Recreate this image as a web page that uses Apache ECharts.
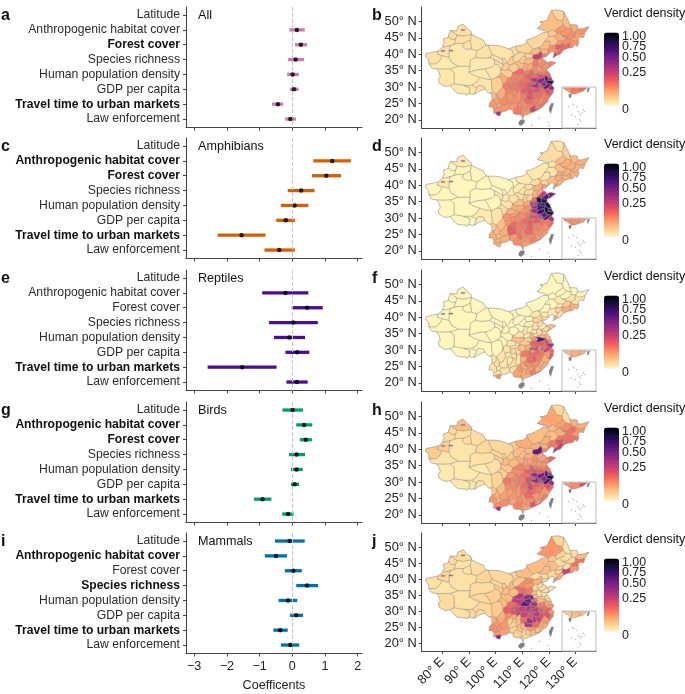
<!DOCTYPE html>
<html>
<head>
<meta charset="utf-8">
<title>Verdict density</title>
<style>
  html, body { margin: 0; padding: 0; background: #fff; }
  #chart { width: 685px; height: 694px; }
</style>
<script src="https://cdn.jsdelivr.net/npm/echarts@6/dist/echarts.min.js"></script>
</head>
<body>
<div id="chart"></div>
<script>
// rows of the forest plots
const rowLabels = ["Latitude", "Anthropogenic habitat cover", "Forest cover", "Species richness",
  "Human population density", "GDP per capita", "Travel time to urban markets", "Law enforcement"];
const coefTicks = [-3, -2, -1, 0, 1, 2];
const lonTicks = [80, 90, 100, 110, 120, 130];
const latTicks = [20, 25, 30, 35, 40, 45, 50];
const densityTicks = [0, 0.25, 0.5, 0.75, 1];

// coefficients, low / mean / high, null where the row has no estimate
const allLow = [null, -0.09, 0.08, -0.13, -0.16, -0.07, -0.62, -0.22];
const allMean = [null, 0.14, 0.26, 0.10, 0.01, 0.05, -0.44, -0.06];
const allHigh = [null, 0.38, 0.45, 0.36, 0.20, 0.19, -0.28, 0.11];
const amphibianLow = [null, 0.64, 0.60, -0.14, -0.35, -0.49, -2.28, -0.85];
const amphibianMean = [null, 1.22, 1.04, 0.27, 0.07, -0.20, -1.55, -0.40];
const amphibianHigh = [null, 1.79, 1.49, 0.68, 0.49, 0.08, -0.82, 0.08];
const reptileLow = [null, -0.92, -0.02, -0.71, -0.56, -0.21, -2.59, -0.18];
const reptileMean = [null, -0.21, 0.45, 0.03, -0.09, 0.15, -1.53, 0.14];
const reptileHigh = [null, 0.49, 0.93, 0.78, 0.39, 0.52, -0.48, 0.47];
const birdLow = [-0.30, 0.12, 0.23, -0.10, -0.04, -0.04, -1.17, -0.31];
const birdMean = [0.01, 0.36, 0.41, 0.13, 0.13, 0.07, -0.91, -0.13];
const birdHigh = [0.33, 0.61, 0.60, 0.39, 0.32, 0.21, -0.64, 0.04];
const mammalLow = [-0.53, -0.84, -0.23, 0.12, -0.42, -0.07, -0.58, -0.35];
const mammalMean = [-0.08, -0.50, 0.03, 0.45, -0.13, 0.12, -0.37, -0.06];
const mammalHigh = [0.38, -0.16, 0.29, 0.79, 0.15, 0.33, -0.14, 0.21];

// map regions as "lon lat,lon lat,...", one line per region, same order as the density lists
const regionRings = [
  // xinjiang
  "83 47.2,85.5 47.1,85.8 48.4,87.8 49.2,89 48,90.8 46.9,91 46,88 45.5,85.5 45.8",
  "82.5 45.2,82.3 45.5,83 47.2,85.5 45.8,85 44.5,83.5 44.5",
  "80.2 42.1,80.3 43,80.8 43.2,80.4 44.6,82.5 45.2,83.5 44.5,85 44.5,84.5 43,83 42.6",
  "85 44.5,85.5 45.8,88 45.5,91 46,90.5 44.3,88 43.3,86 43.3,84.5 43",
  "91 46,93.5 45,95.4 44.3,96.4 42.8,93 41,91 41.5,90.5 44.3",
  "88 43.3,90.5 44.3,91 41.5,89 41.5,87.5 42.3",
  "83 42.6,84.5 43,86 43.3,88 43.3,87.5 42.3,89 41.5,91 41.5,93 41,92.5 39,90.5 38.2,90.5 36.3,86 36.3,83.5 37.5,82.5 39,82.5 41",
  "78.5 41,80.2 42.1,83 42.6,82.5 41,82.5 39,80 39.5,78 40",
  "73.6 39.4,74 40.2,76 40.5,78.5 41,78 40,80 39.5,79 38,77.5 37,75 37,74.9 38.4",
  "75 37,77.5 37,79 38,80 39.5,82.5 39,83.5 37.5,86 36.3,83 35.5,80.5 35.4,78 35.5,76 35.8",
  // tibet
  "78.9 34.3,78 35.5,80.5 35.4,83 35.5,84.5 34.5,84.5 31,83 30.4,82 30.3,81 30.2,78.8 31.2,78.5 32.5,79.3 33",
  "83 35.5,86 36.3,90.5 36.3,90 34.5,92 33.6,94 33,93 31.5,91 30.5,88 30.5,84.5 31,84.5 34.5",
  "84.5 31,88 30.5,90.5 29.8,90 28,89 27.5,88.9 27.9,86 28,85 28.5,83 30.4",
  "88 30.5,91 30.5,93 29.8,92 27.8,90 28,90.5 29.8",
  "93 29.8,93.5 30.5,95.5 30.3,96 29.4,94 28.8,92 27.8",
  "91 30.5,93 31.5,94 33,96.3 32.5,98.5 32.2,98.5 31,98.8 29,98.6 28.2,98 28.2,97.3 28.2,96 29.4,95.5 30.3,93.5 30.5,93 29.8",
  // qinghai
  "90.5 36.3,90.5 38.2,92.5 39,95 38.8,98 39,99.5 38.3,99.7 37,98.5 36,96 35.5,93.5 35.3,90 34.5",
  "90 34.5,93.5 35.3,96 35.5,97 34.3,98.5 32.2,96.3 32.5,94 33,92 33.6",
  "96 35.5,98.5 36,99.7 37,101 36.8,102 35.5,102 34,100.5 33,98.5 32.2,97 34.3",
  "99.5 38.3,100.5 38,102.9 36.8,102.8 36,102 35.5,101 36.8,99.7 37",
  // gansu
  "92.5 39,93 41,96.4 42.8,97.2 42.7,98.7 40,98 39,95 38.8",
  "98 39,98.7 40,100 39.5,102.5 38.6,102.9 36.8,100.5 38,99.5 38.3",
  "102.5 38.6,103.5 38.8,104.2 37.4,102.9 36.8",
  "102.9 36.8,104.2 37.4,105.2 36.7,105 35.3,103.5 35,102 35.5,102.8 36",
  "102 35.5,103.5 35,105 35.3,106.5 34.4,106 33,104.5 32.7,102.5 34,102 34",
  "105.2 36.7,107 37.2,108.7 36.4,108.2 35,106.5 34.4,105 35.3",
  // ningxia
  "104.2 37.4,105 38,105.9 39.3,106.8 39.3,106.5 38.3,107.3 37.5,107 37.2,105.2 36.7",
  // inner mongolia, daxing'anling
  "97.2 42.7,100 42.7,101.8 42.5,105 41.6,106.5 41,106.8 39.3,105.9 39.3,105 38,104.2 37.4,103.5 38.8,102.5 38.6,100 39.5,98.7 40",
  "105 41.6,107.5 42.4,108 41,109.5 40.6,108 40.2,106.8 39.3,106.5 41",
  "106.8 39.3,108 40.2,109.5 40.6,111.3 40.3,111 39.5,110 39,108.5 37.8,107.3 37.5,106.5 38.3",
  "107.5 42.4,110.4 42.8,111.9 43.7,112.8 42.8,114 41.5,112.5 40.2,111.3 40.3,109.5 40.6,108 41",
  "111.9 43.7,111.5 44.3,113.6 44.8,116 45.7,117.8 46.6,119.8 46.7,120 45.5,118.5 44,117.5 42.5,116 42,114 41.5,112.8 42.8",
  "117.5 42.5,118.5 44,120.5 44,120.5 42.5,119.5 41.5,117.5 41.5,116 42",
  "120.5 44,118.5 44,120 45.5,122 45.5,123.5 44,122.5 42.8,120.5 42.5",
  "119.8 46.7,119.9 46.8,121.5 47.5,122.5 47,123.2 46.2,122 45.5,120 45.5",
  "115.6 47.9,116 48,117.8 49.5,116.7 49.8,119.3 50.3,120.1 51.7,121 53.3,122 52,123 50.5,125 50.2,125.5 49,124.5 48.4,123.3 48,122.5 47,121.5 47.5,119.9 46.8",
  "121 53.3,123.5 53.5,125.6 53,125.5 50.9,125 50.2,123 50.5,122 52",
  // heilongjiang
  "125 50.2,125.5 50.9,125.6 53,127.5 50,127.9 49,128.5 47.7,126.5 48,125.5 49",
  "127.9 49,130.6 48.9,130.9 47.7,130 46.7,128.5 47,128.5 47.7",
  "123.3 48,124.5 48.4,125.5 49,126.5 48,125.5 47,124 46.5,123.2 46.2,122.5 47",
  "126.5 48,128.5 47.7,128.5 47,127 45.6,125 45.5,124 46.5,125.5 47",
  "125 45.5,127 45.6,128.5 47,130 46.7,130 45.3,128.3 44.7,126.5 45",
  "130.9 47.7,132.5 47.7,134.8 48.3,135.08 48.4,133.5 46.5,131.5 46,130 46.7",
  "130 46.7,131.5 46,133.5 46.5,133.1 45.1,131.9 45.3,131 44.9,131 43.9,129 44,128.3 44.7,130 45.3",
  // jilin
  "122 45.5,123.2 46.2,124 46.5,125 45.5,126.5 45,125.5 44,123.5 44",
  "125.5 44,126.5 45,128.3 44.7,128 43.5,126.5 42.9,125 43.2",
  "123.5 44,125.5 44,125 43.2,124.3 42.9,122.5 42.8",
  "128.3 44.7,129 44,131 43.9,131.3 43.4,130.6 42.4,129.9 43,128.9 42,128 42,128 43.5",
  "125 43.2,126.5 42.9,128 43.5,128 42,126.9 41.8,125.5 41.3,125 42.2",
  // liaoning
  "122.5 42.8,124.3 42.9,125 43.2,125 42.2,123.5 41.3,122.5 41.5",
  "123.5 41.3,125 42.2,125.5 41.3,124.4 40.1,123 39.7,123 40.5",
  "123 40.5,123 39.7,121.6 38.9,122.2 40.4",
  "120.5 42.5,122.5 42.8,122.5 41.5,123.5 41.3,123 40.5,122.2 40.4,121.2 40.9,119.8 40,119.5 41.5",
  // hebei, beijing, tianjin
  "114 41.5,116 42,117 41,115.8 40,114 39.8,114 40.2,112.5 40.2",
  "116 42,117.5 41.5,119.5 41.5,119.8 40,117.5 40.1,117 41",
  "114 39.8,115.8 40,117 41,117.5 40.1,117.5 39,116 38.3,114.5 38.4,113.8 38.8",
  "117.5 40.1,119.8 40,119 39.2,117.8 39.2,117.8 38.2,117.5 38.5,117.5 39",
  "116 38.3,117.5 39,117.5 38.5,117.8 38.2,116.5 37,115.5 37.3",
  "114.5 38.4,116 38.3,115.5 37.3,116.5 37,115.3 36.2,114 36.3,113.8 37.3",
  // shanxi
  "111.3 40.3,112.5 40.2,114 40.2,114 39.8,113.8 38.8,111.5 38.6,111 39.5",
  "111.5 38.6,113.8 38.8,114.5 38.4,113.8 37.3,112.3 36.9,110.8 37.2,110.9 38",
  "112.3 36.9,113.8 37.3,114 36.3,113.5 35.3,112.8 35.2,112 35.1,111.5 36",
  "110.8 37.2,112.3 36.9,111.5 36,112 35.1,110.6 34.6,110.3 35.5",
  // shaanxi
  "108.5 37.8,110 39,111 39.5,111.5 38.6,110.9 38,110.8 37.2,109.8 37.2",
  "107.3 37.5,108.5 37.8,109.8 37.2,110.8 37.2,110.3 35.5,108.7 35.6,108.7 36.4,107 37.2",
  "106.5 34.4,108.2 35,108.7 35.6,110.3 35.5,110.6 34.6,110.5 33.8,108 33.7,106.7 34",
  "106 33,106.5 34.4,106.7 34,108 33.7,110.5 33.8,110.9 33.2,110 32.6,109 31.8,107.5 32.5,106 32.8",
  // henan
  "114 36.3,115.3 36.2,115.5 35.1,114 34.9,113 35,112.8 35.2,113.5 35.3",
  "115.5 35.1,116.1 34.6,115 33.9,114 34.3,114 34.9",
  "110.6 34.6,112 35.1,112.8 35.2,113 35,113 34,111.5 33.6,110.5 33.8",
  "113 35,114 34.9,114 34.3,114.8 33.6,113.3 33.5,113 34",
  "110.9 33.2,110.5 33.8,111.5 33.6,113 34,113.3 33.5,113.8 32.7,112.8 32.4,111.6 32.6",
  "114.8 33.6,114 34.3,115 33.9,116 33.4,115.5 32.8,114.5 32.8,113.8 32.7,113.3 33.5",
  "112.8 32.4,113.8 32.7,114.5 32.8,115.5 32.8,115.9 32,115.2 31.3,114 31.6",
  // shandong
  "116.5 37,117.8 38.2,118.9 38,119 37.3,118.5 36.7,117 36.2,116 36.4,115.3 36.2",
  "115.3 36.2,116 36.4,117 36.2,117.5 35.2,117 34.5,116.1 34.6,115.5 35.1",
  "118.5 36.7,119 37.3,120 37,120 36,119.3 35.7,118 35.8,117 36.2",
  "119 37.3,120.8 37.8,122.6 37.4,120.4 36.1,119.3 35.7,120 36,120 37",
  "117 36.2,118 35.8,119.3 35.7,119.3 35,118.5 34.5,117 34.5,117.5 35.2",
  // jiangsu
  "116.1 34.6,117 34.5,118.5 34.5,118.8 33.6,117.5 33.7,116.4 34,115 33.9",
  "118.5 34.5,119.3 35,120.3 34.2,120.9 33,119.8 32.9,118.8 33.6",
  "118.8 33.6,119.8 32.9,120 32,118.8 31.3,118.4 32.2,118.3 33",
  "119.8 32.9,120.9 33,121 32.5,121.9 31.7,120.5 32,120 32",
  "118.8 31.3,120 32,120.5 32,121.9 31.7,121.3 30.9,121 30.6,120.5 31,119.6 31",
  // anhui
  "115.5 32.8,116 33.4,115 33.9,116.4 34,117.5 33.7,118.8 33.6,118.3 33,117.5 32.7,116 32.4,115.9 32",
  "115.9 32,116 32.4,117.5 32.7,118.3 33,118.4 32.2,118 31.5,117 31.2,116 31.2,115.2 31.3",
  "118 31.5,118.4 32.2,118.8 31.3,119.6 31,118.8 30.3,118 30,117.2 30.5,117 31.2",
  "116 31.2,117 31.2,117.2 30.5,118 30,118 29.4,117.2 29.7,116.2 29.8,116 30.3",
  // zhejiang, shanghai
  "119.6 31,120.5 31,121 30.6,120.2 30.2,119.8 29.7,118.9 29.3,118 29.4,118 30,118.8 30.3",
  "121 30.6,122 29.8,121.6 28.9,120.5 29,119.8 29.7,120.2 30.2",
  "118 29.4,118.9 29.3,119.8 29.7,120.5 29,120.5 28,119.5 27.5,118.8 28.3,118.2 28.6",
  "120.5 29,121.6 28.9,121.6 28.3,120.5 27.1,119.5 27.5,120.5 28",
  // fujian
  "118.8 28.3,119.5 27.5,120.5 27.1,119.6 26.2,118 26.3,117 27,117.5 27.5,118.2 28.6",
  "118 26.3,119.6 26.2,119.6 25.5,118.1 24.4,117.4 25.2",
  "117 27,118 26.3,117.4 25.2,116.8 24.6,116 24.9,116.5 26",
  "117.4 25.2,118.1 24.4,117 23.6,116.8 24.6",
  // jiangxi
  "113.9 29,115 29.7,116.2 29.8,117 29.2,116.5 28.4,115 28.3,114 28.5",
  "116.2 29.8,117.2 29.7,118 29.4,118.2 28.6,117.5 27.5,116.5 28.4,117 29.2",
  "115 28.3,116.5 28.4,117.5 27.5,117 27,116.5 26,115.5 26.8",
  "114 28.5,115 28.3,115.5 26.8,115 26.4,114 26.3,114 27.5",
  "114 26.3,115 26.4,115.5 26.8,116.5 26,116 24.9,115 24.7,114.3 25.2,113.5 26",
  // hubei
  "110 32.6,110.9 33.2,111.6 32.6,112.8 32.4,113 31.8,112 31.5,111 31.4,110 31.5,109 31.8",
  "109.2 31.5,109 31.8,110 31.5,111 31.4,111.5 30.5,111 29.8,109.8 29.5,108.5 29.9,108.5 30.8",
  "111 31.4,112 31.5,113 31.8,113.5 31,113.5 30.2,113 29.7,111.5 29.7,111 29.8,111.5 30.5",
  "112.8 32.4,114 31.6,115.2 31.3,114.8 30.7,114 30.7,113.5 31,113 31.8",
  "113.5 31,114 30.7,114.8 30.7,115.2 31.3,116 31.2,116 30.3,116.2 29.8,115 29.7,114 30,113.5 30.2",
  "113 29.7,113.5 30.2,114 30,115 29.7,113.9 29",
  // hunan
  "109.8 29.5,111 29.8,111.5 29.7,112.5 29.3,112 28.2,110.6 27.9,109.4 28.2,109.2 29",
  "111.5 29.7,113 29.7,113.9 29,114 28.5,114 27.5,113 27.4,112 28.2,112.5 29.3",
  "109.4 28.2,110.6 27.9,112 28.2,111.7 26.8,110.6 26.3,109.5 26.1,109.3 27",
  "112 28.2,113 27.4,114 27.5,114 26.3,113.5 26,112 26.2,111.7 26.8",
  "110.6 26.3,111.7 26.8,112 26.2,113.5 26,114.3 25.2,113.3 24.9,112 25,111 25",
  // guangdong
  "112 25,113.3 24.9,114.3 25.2,114.8 24.5,113.5 23.7,112.8 23.6,112 24.2",
  "114.3 25.2,115 24.7,116 24.9,116.8 24.6,117 23.6,116 23.2,114.8 23.2,114.8 24.5",
  "113.5 23.7,114.8 24.5,114.8 23.2,116 23.2,117 23.6,115 22.7,113.6 22.2,113 22.6,112.8 23.6",
  "111.4 23.9,112 24.2,112.8 23.6,113 22.6,112 22.5,111.4 23",
  "111.4 23,112 22.5,113 22.6,113.6 22.2,111.8 21.6,110.4 21.2,110.3 20.3,109.7 21.5,110.4 22.2",
  // guangxi
  "109.5 26.1,110.6 26.3,111 25,112 25,112 24.2,111.4 23.9,110 24.5,109.5 25",
  "108.3 25.3,109.5 26.1,109.5 25,110 24.5,110.2 23.5,109 23.5,108 24.3",
  "110 24.5,111.4 23.9,111.4 23,110.4 22.2,109.7 21.5,109.5 22.5,110.2 23.5",
  "107 23.4,108 24.3,109 23.5,110.2 23.5,109.5 22.5,109.7 21.5,108.5 21.8,108 21.6,106.7 22,106.6 22.9",
  "105.3 23.3,105 24.5,106.5 25,108.3 25.3,108 24.3,107 23.4,106.6 22.9",
  // guizhou
  "104.3 26.6,104.5 27.4,105.3 28,106.3 27.7,106.5 26.8,105.7 25.8,104.6 25.3",
  "105.3 28,106.2 28.8,107.5 29.1,108 28.3,107.8 27.2,106.3 27.7",
  "108 28.3,109.2 29,109.4 28.2,109.3 27,109.5 26.1,108.3 25.3,107.5 26,107.8 27.2",
  "106.3 27.7,107.8 27.2,107.5 26,108.3 25.3,106.5 25,105 24.5,104.6 25.3,105.7 25.8,106.5 26.8",
  // chongqing
  "105.7 29.2,105.5 30,106.5 30.5,107.5 30.5,107.8 29.5,108 28.3,107.5 29.1,106.2 28.8",
  "107.5 30.5,108.5 31.5,109.2 31.5,108.5 30.8,108.5 29.9,109.8 29.5,109.2 29,108 28.3,107.8 29.5",
  // sichuan
  "104.5 32.7,106 33,106 32.8,107.5 32.5,107.5 31.5,105.5 31,104 31.5",
  "107.5 32.5,109 31.8,109.2 31.5,108.5 31.5,107.5 30.5,106.5 30.5,105.5 30,105.5 31,107.5 31.5",
  "103 31,104 31.5,105.5 31,105.5 30,105.7 29.2,105 29.3,103.5 29,102.8 30",
  "103.5 29,105 29.3,105.7 29.2,106.2 28.8,105.3 28,104.5 27.4,103.8 28",
  "102.8 30,103.5 29,103.8 28,102.9 26.5,101.5 26,100.8 27.5,100.2 27.8,101.5 29",
  "98.5 31,98.5 32.2,100.5 33,102 33,102.8 31,102.8 30,101.5 29,100.2 27.8,99.4 28.3,98.8 29",
  "100.5 33,102 34,102.5 34,104.5 32.7,104 31.5,103 31,102.8 30,102.8 31,102 33",
  // yunnan
  "98.6 28.2,99.4 28.3,100.2 27.8,100.3 26.8,99.5 26,98.7 26,98.7 27.6,98 28.2",
  "100.2 27.8,100.8 27.5,101.5 26,101.5 25.2,100.3 24.8,99.5 25.2,99.5 26,100.3 26.8",
  "98.7 26,99.5 26,99.5 25.2,100.3 24.8,100.5 23.5,99.5 23,98.7 24,97.6 23.9,97.7 25",
  "102.9 26.5,103.8 28,104.5 27.4,104.3 26.6,104.6 25.3,104 24.5,102.5 24.5,101.5 25.2,101.5 26",
  "99.2 22.1,99.5 23,100.5 23.5,101.5 24,102 23,102.1 22.4,101.2 22.5,99.9 22.2",
  "99.9 22.2,101.2 22.5,102.1 22.4,101.6 21.2,100.5 21.5",
  "101.5 24,102.5 24.5,104 24.5,104.6 25.3,105 24.5,105.3 23.3,104.3 22.8,103 22.5,102.1 22.4,102 23",
  "100.3 24.8,101.5 25.2,102.5 24.5,101.5 24,100.5 23.5",
  // inset: south china band
  "125.3 29.8,128.5 29.8,128.5 27.9,127 28.8,126 29.2",
  "128.5 29.8,131.5 29.8,131.5 28.4,130 27.9,128.5 27.9",
  "131.5 29.8,134.4 29.8,133 28.8,131.5 28.4"
];

// verdict density per region, read by eye from the colour of each panel
const densityAll = [
  .003, .004, .003, .003, .002, .003, .0015, .003, .003, .001,
  .0015, .001, .001, .0015, .002, .002,
  .001, .001, .002, .004,
  .003, .004, .004, .01, .01, .012,
  .012,
  .002, .004, .006, .008, .006, .02, .015, .012, .018, .008,
  .02, .03, .05, .05, .06, .05, .04,
  .03, .06, .05, .05, .1,
  .12, .1, .25, .06,
  .02, .025, .2, .08, .05, .08,
  .01, .02, .03, .03,
  .012, .02, .1, .07,
  .06, .06, .08, .12, .12, .1, .25,
  .06, .05, .05, .07, .06,
  .08, .1, .5, .3, .7,
  .15, .4, .35, .15,
  .5, .3, .15, .12,
  .08, .08, .06, .1,
  .15, .1, .1, .1, .08,
  .09, .1, .12, .15, .3, .12,
  .12, .15, .08, .15, .1,
  .08, .08, .2, .06, .05,
  .06, .07, .06, .08, .05,
  .05, .06, .05, .06,
  .08, .08,
  .07, .08, .08, .07, .03, .01, .03,
  .02, .04, .05, .06, .05, .3, .05, .04,
  .05, .08, .1
];
const densityAmphibians = [
  .001, 0, 0, 0, 0, 0, 0, .001, 0, 0,
  0, 0, 0, 0, .001, .001,
  0, 0, 0, .001,
  0, 0, 0, .001, .002, .003,
  .001,
  0, 0, .001, .001, .001, .002, .002, .002, .004, .002,
  .01, .02, .02, .03, .03, .03, .03,
  .02, .03, .03, .03, .03,
  .03, .03, .05, .02,
  .003, .008, .03, .04, .03, .03,
  .002, .004, .008, .01,
  .002, .004, .02, .03,
  .1, .2, .03, .25, .06, .35, .3,
  .2, .7, .55, .4, .75,
  .7, .7, .85, .6, .8,
  .6, .65, .5, .2,
  .5, .25, .08, .1,
  .06, .05, .05, .05,
  .12, .09, .07, .07, .06,
  .05, .06, .08, .12, .15, .1,
  .1, .12, .08, .12, .1,
  .06, .05, .07, .05, .04,
  .06, .09, .05, .06, .05,
  .12, .1, .08, .12,
  .06, .06,
  .03, .04, .05, .05, .02, .002, .004,
  .012, .02, .03, .03, .03, .03, .03, .02,
  .06, .06, .05
];
const densityReptiles = [
  0, 0, 0, 0, 0, 0, 0, 0, 0, 0,
  0, 0, 0, 0, 0, 0,
  0, 0, 0, 0,
  0, 0, 0, 0, 0, 0,
  0,
  0, 0, 0, 0, 0, 0, 0, 0, 0, 0,
  0, 0, 0, 0, .002, 0, .002,
  .001, .012, .001, .03, .03,
  .01, .003, .03, .001,
  .001, .001, .01, .002, .002, .002,
  0, .001, .001, .001,
  0, 0, .003, .02,
  .002, .003, .001, .02, .01, .05, .12,
  .001, .002, .003, .02, .01,
  .02, .03, .15, .06, .3,
  .55, .12, .1, .05,
  .2, .1, .05, .15,
  .03, .03, .03, .03,
  .1, .08, .08, .12, .06,
  .01, .02, .03, .1, .15, .05,
  .08, .1, .03, .1, .06,
  .05, .03, .08, .04, .03,
  .03, .05, .03, .04, .006,
  .001, .002, .002, .004,
  .004, .004,
  .002, .002, .003, .002, .002, 0, 0,
  .001, .004, .002, .002, .002, .05, .002, .002,
  .02, .03, .03
];
const densityBirds = [
  .02, .006, .004, .004, .004, .004, .002, .012, .012, .002,
  .001, .001, .001, .002, .002, .002,
  .003, .001, .003, .01,
  .006, .006, .01, .02, .015, .02,
  .012,
  .006, .012, .02, .03, .02, .03, .02, .02, .035, .006,
  .004, .03, .04, .06, .09, .03, .05,
  .03, .09, .08, .09, .1,
  .15, .2, .3, .08,
  .03, .03, .5, .08, .03, .06,
  .02, .03, .04, .04,
  .02, .03, .07, .06,
  .05, .08, .06, .15, .12, .15, .35,
  .04, .05, .06, .1, .05,
  .07, .09, .45, .3, .8,
  .12, .45, .4, .2,
  .6, .3, .15, .1,
  .05, .08, .05, .08,
  .12, .1, .08, .1, .05,
  .09, .08, .15, .15, .35, .1,
  .1, .18, .08, .12, .1,
  .06, .05, .15, .05, .04,
  .05, .06, .05, .07, .04,
  .04, .06, .05, .05,
  .06, .07,
  .05, .07, .08, .06, .02, .008, .01,
  .012, .03, .05, .04, .06, .3, .06, .03,
  .05, .06, .15
];
const densityMammals = [
  .005, .006, .004, .003, .004, .003, .003, .007, .003, .002,
  .005, .003, .003, .006, .006, .006,
  .005, .006, .01, .008,
  .008, .008, .012, .02, .02, .02,
  .025,
  .006, .01, .012, .02, .02, .02, .02, .015, .05, .008,
  .002, .004, .008, .004, .006, .02, .09,
  .004, .004, .006, .05, .2,
  .01, .03, .05, .008,
  .003, .004, .03, .004, .004, .006,
  .06, .05, .08, .1,
  .06, .1, .25, .22,
  .02, .02, .35, .5, .45, .1, .3,
  .004, .003, .003, .003, .004,
  .01, .01, .04, .03, .05,
  .02, .08, .1, .12,
  .12, .05, .15, .08,
  .05, .03, .03, .02,
  .22, .15, .2, .25, .1,
  .5, .2, .25, .25, .25, .2,
  .2, .15, .1, .3, .25,
  .05, .02, .02, .008, .006,
  .02, .02, .006, .01, .01,
  .01, .03, .02, .01,
  .15, .2,
  .1, .15, .12, .06, .03, .012, .02,
  .03, .05, .06, .05, .05, .4, .04, .05,
  .01, .02, .02
];

// no-data islands and lakes, drawn grey
const greyRings = [
  "121 25.1,121.9 25,121.5 24,121 22.7,120.8 21.9,120.2 22.7,120.1 23.6,120.7 24.6",
  "108.7 19.3,109.5 20,110.6 20.1,111 19.7,110.5 18.8,109.6 18.2,108.7 18.6",
  "112.7 30.7,113.7 30.7,113.7 30,112.7 30",
  "116.8 30.5,117.8 30.5,117.8 30,116.8 30",
  "79.5 41.2,81 41.2,81 40.8,79.5 40.8",
  "82.5 41.3,84 41.3,84 40.9,82.5 40.9",
  "87 47.6,88.5 47.6,88.5 47.2,87 47.2",
  "134.6 29.6,135.4 29.8,135 28.6,134.4 28.4",
  "127.5 27.8,128.5 27.8,128.4 26.8,127.6 26.7"
];
const insetFrame = "125 30,137.7 30,137.7 17.5,125 17.5";
const chinaOutline = "73.6 39.4,74 40.2,76 40.5,78.5 41,80.2 42.1,80.3 43,80.8 43.2,80.4 44.6,82.5 45.2,82.3 45.5,83 47.2,85.5 47.1,85.8 48.4,87.8 49.2,89 48,90.8 46.9,91 46,93.5 45,95.4 44.3,96.4 42.8,100 42.7,101.8 42.5,105 41.6,107.5 42.4,110.4 42.8,111.9 43.7,111.5 44.3,113.6 44.8,116 45.7,117.8 46.6,119.8 46.7,119.9 46.8,115.6 47.9,116 48,117.8 49.5,116.7 49.8,119.3 50.3,120.1 51.7,121 53.3,123.5 53.5,125.6 53,127.5 50,127.9 49,130.6 48.9,130.9 47.7,132.5 47.7,134.8 48.3,135.08 48.4,133.5 46.5,133.1 45.1,131.9 45.3,131 44.9,131.3 43.4,130.6 42.4,129.9 43,128.9 42,128 42,126.9 41.8,125.5 41.3,124.4 40.1,123 39.7,121.6 38.9,122.2 40.4,121.2 40.9,119.8 40,119 39.2,117.8 39.2,117.8 38.2,118.9 38,119 37.3,120.8 37.8,122.6 37.4,120.4 36.1,119.3 35.7,119.3 35,120.3 34.2,120.9 33,121 32.5,121.9 31.7,121 30.6,122 29.8,121.6 28.3,120.5 27.1,119.6 25.5,118.1 24.4,117 23.6,115 22.7,113.6 22.2,111.8 21.6,110.4 21.2,110.3 20.3,109.7 21.5,108.5 21.8,108 21.6,106.7 22,106.6 22.9,105.3 23.3,104.3 22.8,103 22.5,102.1 22.4,101.6 21.2,100.5 21.5,99.2 22.1,99.5 23,98.7 24,97.6 23.9,97.7 25,98.7 26,98.7 27.6,98 28.2,97.3 28.2,96 29.4,94 28.8,92 27.8,90 28,89 27.5,88.9 27.9,86 28,85 28.5,83 30.4,82 30.3,81 30.2,78.8 31.2,78.5 32.5,79.3 33,78.9 34.3,78 35.5,76 35.8,75 37,74.9 38.4";
// scattered small islands (south china sea, inset included)
const islandLon = [111, 113.5, 116.5, 119.8, 120.2, 129.5, 130.5, 131, 131.5, 132, 132.5, 133, 130, 128.5, 129, 131.5, 132, 133.5, 131, 127.5];
const islandLat = [19, 18.3, 20.5, 19.3, 18.2, 24.5, 24, 22.5, 22, 21.5, 22.2, 23, 21, 21.5, 24.8, 20, 19.5, 22.5, 18.5, 24];

const panelNames = ["All", "Amphibians", "Reptiles", "Birds", "Mammals"];
const panelLetters = ["a", "c", "e", "g", "i"];
const mapLetters = ["b", "d", "f", "h", "j"];
const panelColors = ["#cf7aa9", "#d55e00", "#4b0c96", "#009e73", "#0072b2"];
const panelLows = [allLow, amphibianLow, reptileLow, birdLow, mammalLow];
const panelMeans = [allMean, amphibianMean, reptileMean, birdMean, mammalMean];
const panelHighs = [allHigh, amphibianHigh, reptileHigh, birdHigh, mammalHigh];
const panelBold = [[2, 6], [1, 2, 6], [6], [1, 2, 6], [1, 3, 6]];
const panelDensity = [densityAll, densityAmphibians, densityReptiles, densityBirds, densityMammals];
const panelTop = [7, 138, 270, 402, 533];
const magma = ["#fff6bd", "#feca8d", "#fd9668", "#f1605d", "#cd4071", "#9e2f7f", "#721f81", "#440f76", "#180f3d", "#000004"];

const textColor = "#222";
const fontName = "Liberation Sans";

function parseRing(s) {
  return s.split(",").map(function (p) { return p.trim().split(" ").map(Number); });
}
const regions = regionRings.map(parseRing);
const greys = greyRings.map(parseRing);
const outline = parseRing(chinaOutline);
const frame = parseRing(insetFrame);

function ringItem(ring, api, style) {
  return {
    type: "polygon",
    shape: { points: ring.map(function (p) { return api.coord(p); }) },
    style: style
  };
}

const grids = [], xAxes = [], yAxes = [], series = [], visualMaps = [], graphics = [];

function addText(text, x, y, font, align) {
  graphics.push({
    type: "text", silent: true,
    style: { text: text, x: x, y: y, font: font, fill: "#111", textAlign: align || "left", textVerticalAlign: "middle" }
  });
}

panelNames.forEach(function (name, p) {
  const last = p === panelNames.length - 1;
  const top = panelTop[p];

  // forest plot on the left
  let g = grids.length;
  grids.push({ left: 186, top: top, width: 176, height: 120.5 });
  xAxes.push({
    gridIndex: g, type: "value", min: -3.25, max: 2.13, splitLine: { show: false },
    axisLine: { onZero: false, lineStyle: { color: "#444", width: 1.1 } },
    axisTick: { customValues: coefTicks, length: 3, lineStyle: { color: "#444" } },
    axisLabel: {
      show: last, customValues: coefTicks, margin: 7, color: textColor, fontFamily: fontName, fontSize: 12.6,
      formatter: function (v) { return v < 0 ? "\u2212" + Math.abs(v) : String(v); }
    },
    name: last ? "Coefficents" : "", nameLocation: "middle", nameGap: 26,
    nameTextStyle: { color: textColor, fontFamily: fontName, fontSize: 12.6 }
  });
  const bold = panelBold[p];
  const rowIdx = rowLabels.map(function (l, i) { return i; });
  yAxes.push({
    gridIndex: g, type: "value", inverse: true, min: -0.54, max: 7.57, splitLine: { show: false },
    axisLine: { onZero: false, lineStyle: { color: "#444", width: 1.1 } },
    axisTick: { customValues: rowIdx, length: 3, lineStyle: { color: "#444" } },
    axisLabel: {
      customValues: rowIdx, margin: 6,
      formatter: function (v) {
        return (bold.indexOf(v) >= 0 ? "{b|" : "{n|") + rowLabels[v] + "}";
      },
      rich: {
        n: { color: "#2b2b2b", fontFamily: fontName, fontSize: 12.2 },
        b: { color: "#111", fontFamily: fontName, fontSize: 12.1, fontWeight: "bold" }
      }
    }
  });

  const rows = [];
  panelMeans[p].forEach(function (m, i) {
    if (m !== null) rows.push([panelLows[p][i], i, panelHighs[p][i], m]);
  });
  const barColor = panelColors[p];
  series.push({
    type: "custom", xAxisIndex: g, yAxisIndex: g, silent: true, animation: false, clip: false,
    data: rows, encode: { x: 0, y: 1 },
    renderItem: function (params, api) {
      const a = api.coord([api.value(0), api.value(1)]);
      const b = api.coord([api.value(2), api.value(1)]);
      return { type: "line", shape: { x1: a[0], y1: a[1], x2: b[0], y2: b[1] }, style: { stroke: barColor, lineWidth: 3.3 } };
    },
    markLine: {
      silent: true, symbol: "none", animation: false, label: { show: false },
      lineStyle: { color: "#c4c4c4", type: "dashed", width: 1 },
      data: [{ xAxis: 0 }]
    }
  });
  series.push({
    type: "scatter", xAxisIndex: g, yAxisIndex: g, silent: true, animation: false, z: 5,
    symbolSize: 4.5, itemStyle: { color: "#000" },
    data: rows.map(function (r) { return [r[3], r[1]]; })
  });

  addText(name, 198, top + 8.6, "12.6px " + fontName);
  addText(panelLetters[p], 1, top + 8.4, "bold 16px " + fontName);

  // map on the right
  g = grids.length;
  grids.push({ left: 421.7, top: top, width: 174.3, height: 121 });
  xAxes.push({
    gridIndex: g, type: "value", min: 72.25, max: 137.75, splitLine: { show: false },
    axisLine: { onZero: false, lineStyle: { color: "#444", width: 1.1 } },
    axisTick: { customValues: lonTicks, length: 3, lineStyle: { color: "#444" } },
    axisLabel: {
      show: last, customValues: lonTicks, rotate: 45, margin: 9, color: textColor, fontFamily: fontName, fontSize: 12.8,
      formatter: function (v) { return v + "\u00b0 E"; }
    }
  });
  yAxes.push({
    gridIndex: g, type: "value", min: 17.5, max: 54.4, splitLine: { show: false },
    axisLine: { onZero: false, lineStyle: { color: "#444", width: 1.1 } },
    axisTick: { customValues: latTicks, length: 3, lineStyle: { color: "#444" } },
    axisLabel: {
      customValues: latTicks, margin: 5, color: textColor, fontFamily: fontName, fontSize: 12.8,
      formatter: function (v) { return v + "\u00b0 N"; }
    }
  });
  const base = { xAxisIndex: g, yAxisIndex: g, type: "custom", silent: true, animation: false };

  series.push(Object.assign({}, base, {
    data: [[0, 0]],
    renderItem: function (params, api) {
      return ringItem(outline, api, { fill: "#fff6bd", stroke: "#8e8e8e", lineWidth: 0.45 });
    }
  }));
  // sqrt of the density drives the colour, the legend is on a square-root scale
  const mapSeriesIndex = series.length;
  series.push(Object.assign({}, base, {
    data: panelDensity[p].map(function (d, i) { return [i, d, Math.sqrt(d)]; }),
    dimensions: ["region", "density", "root"],
    encode: { x: 0 },
    renderItem: function (params, api) {
      return ringItem(regions[api.value(0)], api, { fill: api.visual("color"), stroke: "#8e8e8e", lineWidth: 0.45 });
    }
  }));
  series.push(Object.assign({}, base, {
    data: frame.length ? [[0, 0]] : [],
    renderItem: function (params, api) {
      return ringItem(frame, api, { fill: "none", stroke: "#bdbdbd", lineWidth: 1 });
    }
  }));
  series.push(Object.assign({}, base, {
    data: greys.map(function (r, i) { return [i, 0]; }),
    renderItem: function (params, api) {
      return ringItem(greys[api.value(0)], api, { fill: "#808080", stroke: "#808080", lineWidth: 0.2 });
    }
  }));
  series.push({
    type: "scatter", xAxisIndex: g, yAxisIndex: g, silent: true, animation: false,
    symbolSize: 1.2, itemStyle: { color: "#8a8a8a" },
    data: islandLon.map(function (lon, i) { return [lon, islandLat[i]]; })
  });

  visualMaps.push({
    type: "continuous", seriesIndex: mapSeriesIndex, dimension: 2, min: 0, max: 1,
    left: 604, top: top + 25.5, itemWidth: 15, itemHeight: 73, padding: 0,
    calculable: false, hoverLink: false, inRange: { color: magma.slice() },
    textStyle: { fontSize: 0 }
  });

  addText("Verdict density", 604, top + 7, "12.5px " + fontName);
  addText(mapLetters[p], 372, top + 8.4, "bold 16px " + fontName);

  // legend labels sit on their own small axis. The axis runs on past 1 to an empty
  // last label, otherwise echarts drops 0.75 or 1.00 as overlapping end labels
  g = grids.length;
  grids.push({ left: 618, top: top + 29.5 - 14.6, width: 1, height: 87.6 });
  xAxes.push({ gridIndex: g, type: "value", show: false, min: 0, max: 1 });
  yAxes.push({
    gridIndex: g, type: "value", position: "right", min: 0, max: 1.2, splitLine: { show: false },
    axisLine: { show: false }, axisTick: { show: false },
    axisLabel: {
      customValues: densityTicks.map(Math.sqrt).concat([1.2]), margin: 3, color: textColor, fontFamily: fontName, fontSize: 12.4,
      showMinLabel: true, showMaxLabel: true, hideOverlap: false,
      formatter: function (v) {
        if (v > 1) return "";
        const d = v * v;
        return d < 0.001 ? "0" : d.toFixed(2);
      }
    }
  });
});

const chart = echarts.init(document.getElementById("chart"), null, { renderer: "canvas" });
chart.setOption({
  backgroundColor: "#fff",
  animation: false,
  textStyle: { fontFamily: fontName },
  grid: grids,
  xAxis: xAxes,
  yAxis: yAxes,
  visualMap: visualMaps,
  series: series,
  graphic: graphics
});
</script>
</body>
</html>
